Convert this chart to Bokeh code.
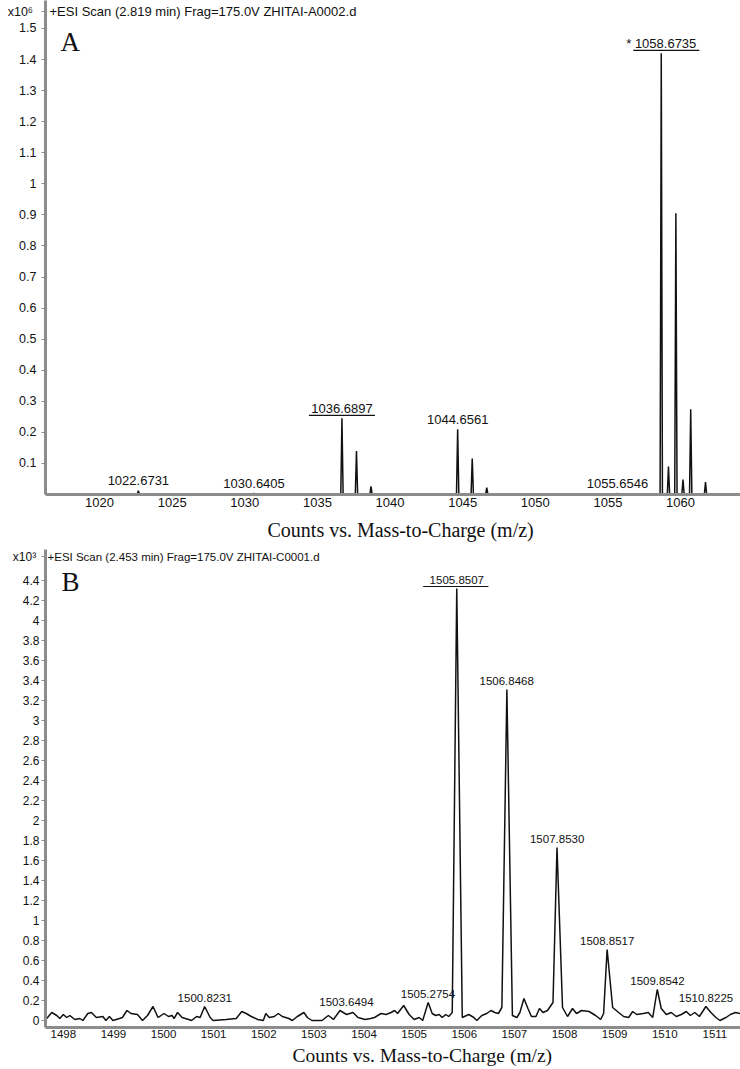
from bokeh.plotting import figure
from bokeh.models import Range1d, FixedTicker, Label, CustomJSTickFormatter, Title
from bokeh.layouts import column
from bokeh.embed import file_html
from bokeh.resources import INLINE

# ---------------- data: panel A (x10^6 counts) ----------------
a_peak_mz = [1022.6731, 1030.6405, 1036.6897, 1037.69, 1038.69, 1044.6561, 1045.66,
             1046.66, 1055.6546, 1058.6735, 1059.17, 1059.68, 1060.17, 1060.70, 1061.72]
a_peak_int = [0.012, 0.004, 0.245, 0.14, 0.026, 0.21, 0.116,
              0.022, 0.004, 1.42, 0.09, 0.905, 0.048, 0.274, 0.04]
a_label_mz = [1022.6731, 1030.6405, 1036.6897, 1044.6561, 1055.6546, 1058.6735]
a_label_text = ["1022.6731", "1030.6405", "1036.6897", "1044.6561", "1055.6546", "* 1058.6735"]
a_label_under = [False, False, True, False, False, True]
a_yticks = [0.1, 0.2, 0.3, 0.4, 0.5, 0.6, 0.7, 0.8, 0.9, 1.0, 1.1, 1.2, 1.3, 1.4, 1.5]
a_xticks = [1020, 1025, 1030, 1035, 1040, 1045, 1050, 1055, 1060]
a_scale_text = "x10⁶ "
a_title = "+ESI Scan (2.819 min) Frag=175.0V ZHITAI-A0002.d"

# ---------------- data: panel B (x10^3 counts) ----------------
b_mz = [1497.67, 1497.77, 1497.87, 1497.93, 1498.00, 1498.07, 1498.13, 1498.23, 1498.33, 1498.39,
        1498.49, 1498.56, 1498.66, 1498.79, 1498.85, 1498.92, 1498.99, 1499.12, 1499.18, 1499.27,
        1499.35, 1499.48, 1499.58, 1499.68, 1499.79, 1499.89, 1500.01, 1500.10, 1500.17, 1500.21,
        1500.28, 1500.37, 1500.50, 1500.56, 1500.66, 1500.73, 1500.82, 1500.93, 1500.99, 1501.25,
        1501.45, 1501.56, 1501.65, 1501.75, 1501.88, 1501.99, 1502.04, 1502.11, 1502.21, 1502.29,
        1502.37, 1502.50, 1502.57, 1502.67, 1502.80, 1502.87, 1502.96, 1503.16, 1503.29, 1503.39,
        1503.52, 1503.65, 1503.78, 1503.88, 1504.02, 1504.13, 1504.21, 1504.34, 1504.44, 1504.54,
        1504.61, 1504.67, 1504.79, 1504.90, 1505.00, 1505.10, 1505.17, 1505.28, 1505.36, 1505.43,
        1505.50, 1505.56, 1505.63, 1505.69, 1505.76, 1505.85, 1505.96, 1506.09, 1506.19, 1506.25,
        1506.35, 1506.45, 1506.53, 1506.61, 1506.68, 1506.75, 1506.85, 1506.96, 1507.05, 1507.11,
        1507.19, 1507.27, 1507.34, 1507.43, 1507.50, 1507.57, 1507.66, 1507.77, 1507.85, 1507.96,
        1508.06, 1508.16, 1508.24, 1508.34, 1508.49, 1508.62, 1508.72, 1508.78, 1508.85, 1508.96,
        1509.08, 1509.18, 1509.28, 1509.36, 1509.44, 1509.57, 1509.67, 1509.76, 1509.85, 1509.93,
        1510.03, 1510.13, 1510.23, 1510.33, 1510.43, 1510.51, 1510.60, 1510.69, 1510.82, 1510.92,
        1511.02, 1511.10, 1511.22, 1511.31, 1511.41, 1511.50]
b_int = [0.02, 0.08, 0.05, 0.02, 0.06, 0.03, 0.05, 0.01, 0.02, 0.00,
         0.07, 0.08, 0.03, 0.04, 0.00, 0.04, 0.00, 0.02, 0.03, 0.10,
         0.07, 0.06, 0.00, 0.05, 0.14, 0.03, 0.07, 0.04, 0.05, 0.02,
         0.08, 0.03, 0.01, 0.00, 0.04, 0.03, 0.14, 0.03, 0.00, 0.01,
         0.02, 0.09, 0.07, 0.04, 0.01, 0.00, 0.07, 0.03, 0.04, 0.07,
         0.04, 0.02, 0.00, 0.04, 0.08, 0.03, 0.00, 0.00, 0.05, 0.01,
         0.10, 0.06, 0.08, 0.03, 0.01, 0.02, 0.03, 0.07, 0.06, 0.08,
         0.10, 0.07, 0.15, 0.06, 0.01, 0.03, 0.00, 0.18, 0.07, 0.05,
         0.06, 0.03, 0.06, 0.04, 0.08, 4.32, 0.03, 0.06, 0.03, 0.00,
         0.05, 0.07, 0.10, 0.08, 0.07, 0.13, 3.31, 0.05, 0.03, 0.08,
         0.22, 0.12, 0.04, 0.04, 0.12, 0.08, 0.10, 0.18, 1.73, 0.13,
         0.04, 0.12, 0.07, 0.10, 0.09, 0.05, 0.01, 0.07, 0.71, 0.13,
         0.08, 0.04, 0.03, 0.09, 0.06, 0.07, 0.08, 0.03, 0.31, 0.12,
         0.06, 0.08, 0.04, 0.06, 0.09, 0.05, 0.08, 0.04, 0.14, 0.08,
         0.03, 0.00, 0.03, 0.06, 0.08, 0.07]
b_label_mz = [1500.8231, 1503.6494, 1505.2754, 1505.8507, 1506.8468, 1507.8530,
              1508.8517, 1509.8542, 1510.8225]
b_label_text = ["1500.8231", "1503.6494", "1505.2754", "1505.8507", "1506.8468", "1507.8530",
                "1508.8517", "1509.8542", "1510.8225"]
b_label_under = [False, False, False, True, False, False, False, False, False]
b_yticks = [0, 0.2, 0.4, 0.6, 0.8, 1.0, 1.2, 1.4, 1.6, 1.8, 2.0, 2.2, 2.4, 2.6, 2.8, 3.0,
            3.2, 3.4, 3.6, 3.8, 4.0, 4.2, 4.4]
b_xticks = [1498, 1499, 1500, 1501, 1502, 1503, 1504, 1505, 1506, 1507, 1508, 1509, 1510, 1511]
b_scale_text = "x10³ "
b_title = "+ESI Scan (2.453 min) Frag=175.0V ZHITAI-C0001.d"

axis_title = "Counts vs. Mass-to-Charge (m/z)"

# ---------------- styling / geometry ----------------
SANS = "Liberation Sans"
SERIF = "Liberation Serif"
INK = "#111111"
AXIS = "#8c8c8c"
W = 740

# Panel A
A_H, A_LEFT, A_BOTTOM = 549, 45, 55
A_FW, A_FH = W - A_LEFT, A_H - A_BOTTOM
A_X0, A_PPU = 1016.28, 14.525
A_X1 = A_X0 + A_FW / A_PPU
A_YPPU = 310.7
A_Y1 = A_FH / A_YPPU
A_SCALE_POS = A_Y1 - 11 / A_YPPU

# Panel B
B_H, B_LEFT, B_BOTTOM = 1069 - 549, 37, 42
B_FW, B_FH = W - B_LEFT, B_H - B_BOTTOM
B_X0, B_PPU = 1497.645, 50.7
B_X1 = B_X0 + B_FW / B_PPU
B_YPPU = 100.0
B_Y0 = -0.07
B_Y1 = B_Y0 + B_FH / B_YPPU
B_SCALE_POS = B_Y1 - 7 / B_YPPU

JS = "if (tick > lim) { return lab; } return String(Math.round(tick*10)/10);"


def make_fig(h, left, bottom, xr, yr, lim, lab, standoff_y):
    p = figure(width=W, height=h, x_range=Range1d(*xr), y_range=Range1d(*yr),
               output_backend="svg", toolbar_location=None,
               min_border_left=left, min_border_right=0, min_border_top=0,
               min_border_bottom=bottom)
    p.xgrid.visible = False
    p.ygrid.visible = False
    p.outline_line_color = None
    p.background_fill_color = "white"
    p.border_fill_color = "white"
    for ax in (p.xaxis[0], p.yaxis[0]):
        ax.axis_line_color = AXIS
        ax.axis_line_width = 3
        ax.minor_tick_line_color = None
        ax.major_label_text_font = SANS
        ax.major_label_text_color = INK
    p.yaxis.major_tick_out = 4
    p.yaxis.major_tick_in = 0
    p.yaxis.major_tick_line_color = AXIS
    p.yaxis.major_tick_line_width = 1
    p.yaxis.major_label_standoff = standoff_y
    p.yaxis.formatter = CustomJSTickFormatter(args=dict(lim=lim, lab=lab), code=JS)
    p.xaxis.major_tick_line_color = None
    p.xaxis.major_tick_out = 0
    p.xaxis.major_tick_in = 0
    return p


def txt(p, x, y, text, size, font=SANS, align="left", xu="screen", yu="screen"):
    p.add_layout(Label(x=x, y=y, x_units=xu, y_units=yu, text=text,
                       text_font=font, text_font_size=size, text_color=INK,
                       text_align=align, text_baseline="middle"))


def axis_title_below(p, offset, size, standoff):
    p.add_layout(Title(text=axis_title, align="left", offset=offset, standoff=standoff,
                       text_font=SERIF, text_font_size=size, text_font_style="normal",
                       text_color=INK), "below")


# ---------------- Panel A ----------------
pa = make_fig(A_H, A_LEFT, A_BOTTOM, (A_X0, A_X1), (0, A_Y1), A_SCALE_POS - 0.01,
              a_scale_text, 5)
pa.yaxis.ticker = FixedTicker(ticks=a_yticks + [A_SCALE_POS])
pa.xaxis.ticker = FixedTicker(ticks=a_xticks)
pa.yaxis.major_label_text_font_size = "12.5px"
pa.xaxis.major_label_text_font_size = "13px"
pa.xaxis.major_label_standoff = 3

ax_, ay_ = [A_X0], [0.0]
for m, h in zip(a_peak_mz, a_peak_int):
    ax_ += [m - 0.08, m, m + 0.08]
    ay_ += [0.0, h, 0.0]
ax_.append(A_X1)
ay_.append(0.0)
pa.line(ax_, ay_, line_color=INK, line_width=1.5)

for m, t, u in zip(a_label_mz, a_label_text, a_label_under):
    h = a_peak_int[a_peak_mz.index(m)]
    if u:
        c = m + (5 if t.startswith("* ") else 0) / A_PPU
        yy = h + 3 / A_YPPU
        pa.segment(x0=[c - 33 / A_PPU], x1=[c + 33 / A_PPU], y0=[yy], y1=[yy],
                   line_color=INK, line_width=1.2)
    txt(pa, m, h + 10 / A_YPPU, t, "13px", align="center", xu="data", yu="data")

txt(pa, 4, A_FH - 11, a_title, "13px")
txt(pa, 15, A_FH - 41, "A", "27px", font=SERIF)
axis_title_below(pa, 222, "20px", 14)

# ---------------- Panel B ----------------
pb = make_fig(B_H, B_LEFT, B_BOTTOM, (B_X0, B_X1), (B_Y0, B_Y1), B_SCALE_POS - 0.01,
              b_scale_text, 2)
pb.yaxis.ticker = FixedTicker(ticks=b_yticks + [B_SCALE_POS])
pb.xaxis.ticker = FixedTicker(ticks=b_xticks)
pb.yaxis.major_label_text_font_size = "12px"
pb.xaxis.major_label_text_font_size = "11.5px"
pb.xaxis.major_label_standoff = 2
pb.line(b_mz, b_int, line_color=INK, line_width=1.5)

for m, t, u in zip(b_label_mz, b_label_text, b_label_under):
    h = max(v for x, v in zip(b_mz, b_int) if abs(x - m) <= 0.15)
    if u:
        yy = h + 2 / B_YPPU
        pb.segment(x0=[m - 34 / B_PPU], x1=[m + 32 / B_PPU], y0=[yy], y1=[yy],
                   line_color=INK, line_width=1.2)
    txt(pb, m, h + 8.5 / B_YPPU, t, "11.5px", align="center", xu="data", yu="data")

txt(pb, 2, B_FH - 7, b_title, "11.5px")
txt(pb, 16, B_FH - 32, "B", "27px", font=SERIF)
axis_title_below(pb, 247, "19.5px", 4)

layout = column(pa, pb, spacing=0)
open("out.html", "w").write(file_html(layout, INLINE))
